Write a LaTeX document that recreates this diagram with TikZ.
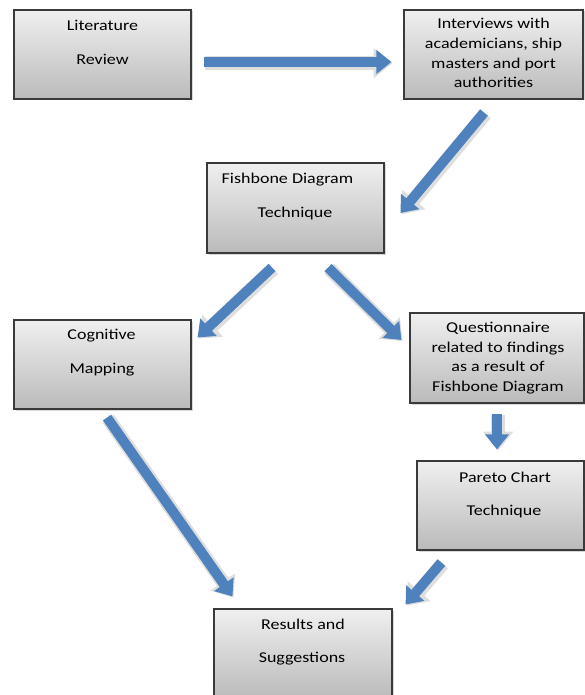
\documentclass[tikz,border=0pt]{standalone}
\usepackage{fontspec}
\setmainfont{Carlito}[FakeStretch=1.2]
\usetikzlibrary{arrows.meta,shadows,calc}
\definecolor{arrowblue}{HTML}{4F81BD}
\definecolor{boxline}{HTML}{3A3A3A}
\tikzset{
  boxnode/.style={draw=boxline, line width=1.1pt, top color=black!6, bottom color=black!27,
    drop shadow={shadow xshift=1.5pt, shadow yshift=-1.5pt, opacity=0.3},
    inner sep=0pt},
  lbl/.style={font=\fontsize{15}{19.7}\selectfont, align=center, inner sep=0pt, text=black},
  barrow/.style={draw=arrowblue, line width=10pt, -{Triangle[width=23pt,length=15pt]},
    preaction={draw=black!13, line width=14pt, -{Triangle[width=29pt,length=19pt]},
      transform canvas={xshift=1.2pt,yshift=-1.2pt}}}
}
\begin{document}
\begin{tikzpicture}[x=1pt,y=-1pt]
\useasboundingbox (0,0) rectangle (585,695);
\fill[white] (0,0) rectangle (585,695);
% boxes
\node[boxnode, minimum width=177pt, minimum height=89pt] (lit) at (102.5,54.5) {};
\node[boxnode, minimum width=179pt, minimum height=89pt] (int) at (493.5,54.5) {};
\node[boxnode, minimum width=177pt, minimum height=90pt] (fish) at (295.5,208) {};
\node[boxnode, minimum width=177pt, minimum height=89pt] (cog) at (102.5,364.5) {};
\node[boxnode, minimum width=174pt, minimum height=90pt] (quest) at (497,358) {};
\node[boxnode, minimum width=167pt, minimum height=89pt] (par) at (500.5,505.5) {};
\node[boxnode, minimum width=178pt, minimum height=90pt] (res) at (303,654) {};
% labels
\node[lbl] (litA) at (102.5,25) {Literature};
\node[lbl] (litB) at (102.5,59) {Review};
\node[lbl, anchor=north] (intT) at (493.5,18) {Interviews with\\academicians, ship\\masters and port\\authorities};
\node[lbl] (fishA) at (287.5,180) {Fishbone Diagram};
\node[lbl] (fishB) at (295,214) {Technique};
\node[lbl] (cogA) at (101.5,336) {Cognitive};
\node[lbl] (cogB) at (102,370) {Mapping};
\node[lbl, anchor=north] (questT) at (498,322) {Questionnaire\\related to findings\\as a result of\\Fishbone Diagram};
\node[lbl] (parA) at (505,477) {Pareto Chart};
\node[lbl] (parB) at (504,511) {Technique};
\node[lbl] (resA) at (303,624) {Results and};
\node[lbl] (resB) at (302,659) {Suggestions};
% arrows
\draw[barrow] ($(lit.east)+(12,7.5)$) -- ($(int.west)+(-12,7.5)$);
\draw[barrow] ($(int.south)+(-9.5,13)$) -- ($(fish.east)+(16,5)$);
\draw[barrow] ($(fish.south)+(-23.5,14)$) -- ($(cog.north east)+(6,18)$);
\draw[barrow] ($(fish.south)+(32.5,14)$) -- ($(quest.west)+(-8,-18)$);
\draw[barrow] ($(cog.south)+(4.5,8)$) -- ($(res.north west)+(19,-12)$);
\draw[barrow] ($(par.south west)+(25,12)$) -- ($(res.north east)+(13,-4)$);
\draw[barrow] ($(quest.south)+(0,10)$) -- ($(quest.south |- par.north)+(0,-11)$);
\end{tikzpicture}
\end{document}
